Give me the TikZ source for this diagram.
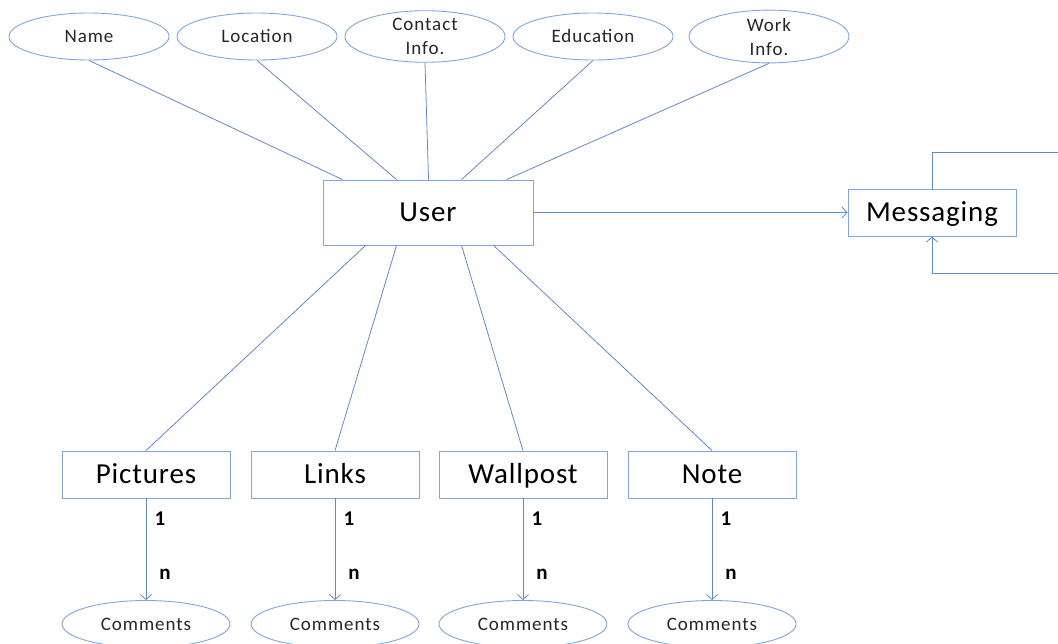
\documentclass[tikz,border=0pt]{standalone}
\usepackage{fontspec}
\setmainfont{Carlito}
\usetikzlibrary{arrows.meta,shapes.geometric}

\definecolor{edgeblue}{RGB}{96,138,204}
\definecolor{rimblue}{RGB}{128,166,220}
\definecolor{inkgray}{RGB}{38,38,38}

\newfontfamily\smallface[LetterSpace=5]{Carlito}
\newfontfamily\boxface[LetterSpace=3]{Carlito}

\tikzset{
  attr/.style={ellipse, draw=rimblue, line width=0.9pt, fill=white,
    minimum width=160pt, minimum height=47pt, inner sep=0pt,
    align=center, text=inkgray, font=\smallface\fontsize{19}{24}\selectfont},
  attrline/.style={attr, text height=15pt, text depth=3pt},
  entity/.style={rectangle, draw=rimblue, line width=0.9pt, fill=white,
    inner sep=0pt, text=black, text height=24pt, text depth=5.3pt,
    font=\boxface\fontsize{29}{32}\selectfont},
  link/.style={draw=edgeblue, line width=0.8pt},
  arrowlink/.style={link, -{Straight Barb[length=5pt,width=11pt,line width=0.8pt]}},
  card/.style={font=\bfseries\fontsize{21}{24}\selectfont, text=black, inner sep=0pt}
}

\begin{document}
\begin{tikzpicture}[x=1pt,y=-1pt]
  \useasboundingbox (0,0) rectangle (1058,643);

  % attribute ellipses along the top
  \node[attrline] (name) at (89,36.5)  {Name};
  \node[attrline] (loc)  at (257,36.5) {Location};
  \node[attr]     (cont) at (425,36.5) {Contact\\Info.};
  \node[attrline] (edu)  at (593,36.5) {Education};
  \node[attr]     (work) at (769,36.5) {Work\\Info.};

  % central entity and messaging
  \node[entity, minimum width=210pt, minimum height=65pt] (user) at (428,212.5) {User};
  \node[entity, minimum width=168pt, minimum height=47pt] (msg)  at (932,212.5) {Messaging};

  % content entities, each with its comments
  \foreach \nm/\lbl/\cx in {pic/Pictures/146, lnk/Links/335, wall/Wallpost/523, note/Note/712}{
    \node[entity, minimum width=168pt, minimum height=47pt] (\nm) at (\cx,474.5) {\lbl};
    \node[attrline, minimum width=168pt] (\nm c) at (\cx,624) {Comments};
    \draw[arrowlink] (\nm.south) -- (\nm c.north);
    \node[card] (\nm one) at (\cx+14,518.5) {1};
    \node[card] (\nm many) at (\cx+19,574) {n};
  }

  % attributes to user
  \draw[link] (name.south) -- ([xshift=20pt]user.north west);
  \draw[link] (loc.south)  -- ([xshift=74pt]user.north west);
  \draw[link] (cont.south) -- ([xshift=106pt]user.north west);
  \draw[link] (edu.south)  -- ([xshift=139pt]user.north west);
  \draw[link] (work.south) -- ([xshift=184pt]user.north west);

  % user to content entities
  \draw[link] ([xshift=43pt]user.south west)  -- (pic.north);
  \draw[link] ([xshift=74pt]user.south west)  -- (lnk.north);
  \draw[link] ([xshift=139pt]user.south west) -- (wall.north);
  \draw[link] ([xshift=171pt]user.south west) -- (note.north);

  % user sends messages
  \draw[arrowlink] (user.east) -- (msg.west);

  % messaging self loop running off to the right
  \coordinate (loopout) at (1058,152);
  \coordinate (loopin)  at (1058,273);
  \draw[link] (msg.north) |- (loopout);
  \draw[arrowlink] (loopin) -| (msg.south);
\end{tikzpicture}
\end{document}
